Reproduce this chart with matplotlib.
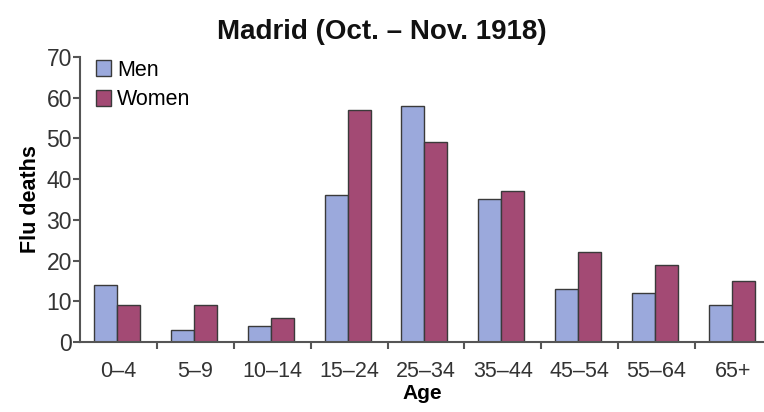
import numpy as np
import matplotlib
matplotlib.use("Agg")
import matplotlib.pyplot as plt

plt.rcParams["font.family"] = ["Liberation Sans", "DejaVu Sans"]

age_groups = ["0–4", "5–9", "10–14", "15–24", "25–34", "35–44", "45–54", "55–64", "65+"]
men = [14, 3, 4, 36, 58, 35, 13, 12, 9]
women = [9, 9, 6, 57, 49, 37, 22, 19, 15]

MEN_COLOR = "#9ba9dc"
WOMEN_COLOR = "#a34a74"
EDGE = "#3a3a3a"
AXIS = "#555555"
TXT = "#333333"

fig = plt.figure(figsize=(7.64, 4.12), dpi=100)
ax = fig.add_axes([0.105, 0.17, 0.895, 0.692])

x = np.arange(len(age_groups))
w = 0.3
ax.bar(x - w / 2 - 0.02, men, w, color=MEN_COLOR, edgecolor=EDGE, lw=1.0, label="Men")
ax.bar(x + w / 2 - 0.02, women, w, color=WOMEN_COLOR, edgecolor=EDGE, lw=1.0, label="Women")

ax.set_xlim(-0.5, 8.4)
ax.set_ylim(0, 70)
ax.set_yticks(range(0, 71, 10))
ax.set_xticks(x)
ax.set_xticklabels(age_groups, fontsize=15.5, color=TXT)
ax.set_xticks(np.arange(0.5, 8, 1), minor=True)
ax.tick_params(axis="x", which="major", length=0, pad=14)
ax.tick_params(axis="x", which="minor", length=5, width=1.5, color=AXIS, direction="out")
ax.tick_params(axis="y", length=5, width=1.5, color=AXIS, labelsize=16.5, labelcolor=TXT, pad=1)

ax.spines[["top", "right"]].set_visible(False)
for s in ("left", "bottom"):
    ax.spines[s].set_color(AXIS)
    ax.spines[s].set_linewidth(1.5)

ax.set_ylabel("Flu deaths", fontsize=15.5, fontweight="bold", labelpad=4)
ax.set_xlabel("Age", fontsize=15, fontweight="bold", labelpad=1)
fig.text(0.5, 0.922, "Madrid (Oct. – Nov. 1918)", ha="center", va="center",
         fontsize=20, fontweight="bold", color="#111111")

ax.legend(loc="upper left", frameon=False, fontsize=15.5, handlelength=0.7, handleheight=0.75,
          handletextpad=0.3, labelspacing=0.4, borderaxespad=0.0, bbox_to_anchor=(0.01, 1.02))

fig.savefig("out.png", dpi=100)
